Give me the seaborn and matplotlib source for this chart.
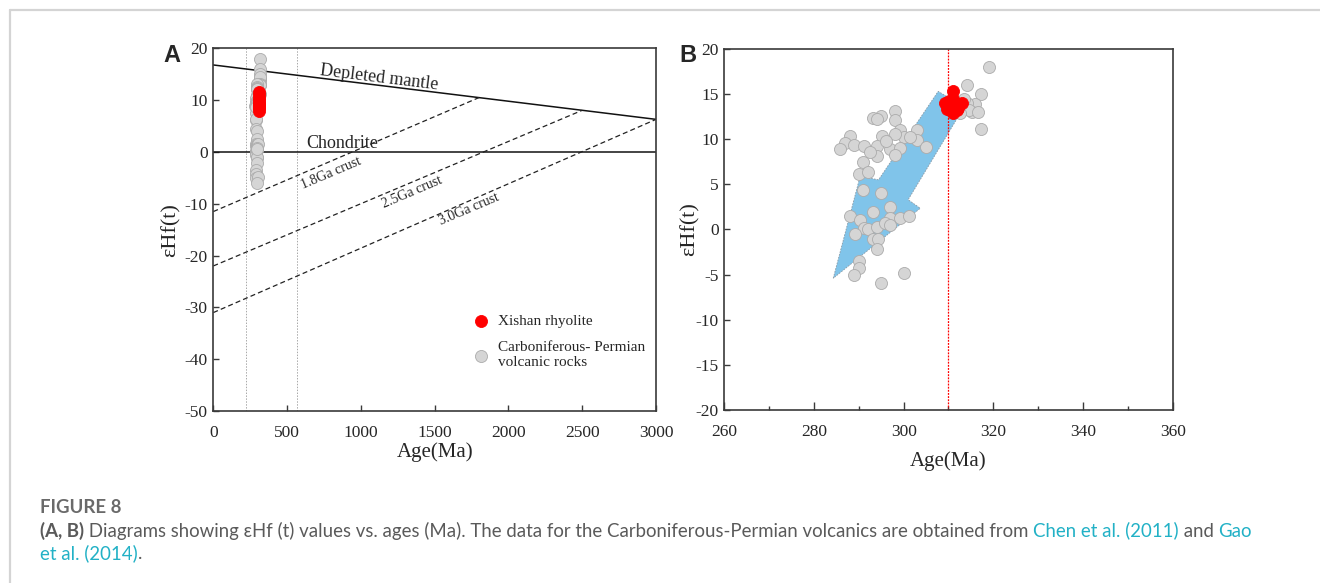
import numpy as np
import pandas as pd
import matplotlib
matplotlib.use("Agg")
import matplotlib.pyplot as plt
import seaborn as sns
from matplotlib.lines import Line2D
from matplotlib.ticker import MultipleLocator

# ---------------- data ----------------
# Carboniferous-Permian volcanic rocks (age Ma, eHf(t))
cp_age = [319.1, 314.1, 317.2, 317.2, 315.9, 315.2, 314.1, 313.5, 314.5, 312.5, 316.5,
          298.1, 295.0, 293.2, 294.1, 298.1, 299.2, 303.0, 303.0, 305.0, 300.1, 298.1,
          295.1, 288.0, 286.9, 285.8, 289.0, 291.2, 294.0, 297.0, 299.2, 294.0, 298.1,
          291.0, 290.1, 292.1, 291.0, 295.0, 293.1, 296.9, 288.0, 290.3, 296.9, 299.2,
          301.2, 291.2, 292.1, 294.0, 295.8, 289.2, 293.2, 294.2, 294.0, 290.1, 290.1,
          289.0, 300.1, 295.0, 297.0, 296.0, 292.5, 301.5]
cp_ehf = [18.0, 16.0, 15.0, 11.1, 13.9, 13.0, 14.0, 14.5, 13.2, 12.9, 13.0,
          13.1, 12.6, 12.3, 12.2, 12.1, 11.0, 11.0, 9.9, 9.1, 10.2, 10.6,
          10.4, 10.4, 9.6, 8.9, 9.4, 9.2, 9.2, 8.9, 9.0, 8.1, 8.2,
          7.5, 6.2, 6.4, 4.4, 4.0, 1.9, 2.5, 1.5, 1.1, 1.3, 1.3,
          1.5, 0.2, 0.0, 0.3, 0.7, -0.5, -1.1, -1.0, -2.2, -3.5, -4.3,
          -5.0, -4.8, -5.9, 0.5, 9.8, 8.6, 10.3]

# Xishan rhyolite, panel A
xs_age_a = [311.0, 310.5, 312.0, 311.5, 310.0, 312.5, 311.0, 310.8, 311.8, 312.2]
xs_ehf_a = [11.5, 11.0, 10.4, 10.0, 9.5, 9.2, 9.0, 8.7, 8.4, 8.0]
# Xishan rhyolite, panel B
xs_age_b = [310.9, 309.2, 309.6, 311.5, 313.0, 311.9, 310.4, 311.1, 310.9, 312.2, 310.2]
xs_ehf_b = [15.3, 14.0, 13.4, 13.8, 14.0, 13.2, 13.2, 14.5, 12.9, 13.5, 14.2]

# Reference evolution lines (panel A)
dm_age = [0, 3000]
dm_ehf = [16.8, 6.3]
chur_age = [0, 3000]
chur_ehf = [0, 0]
crust18_age = [0, 1800]
crust18_ehf = [-11.5, 10.5]
crust25_age = [0, 2500]
crust25_ehf = [-22.0, 8.05]
crust30_age = [0, 3000]
crust30_ehf = [-31.0, 6.3]
guide_ages_a = [220, 570]

# Arrow outline (panel B)
arrow_age = [284.3, 290.3, 294.4, 307.7, 313.5, 301.0, 303.7, 284.3]
arrow_ehf = [-5.4, 5.9, 5.5, 15.3, 13.6, 3.3, 2.35, -5.4]
ref_age_b = 310

xticks_a = [0, 500, 1000, 1500, 2000, 2500, 3000]
yticks_a = [-50, -40, -30, -20, -10, 0, 10, 20]
xticks_b = [260, 280, 300, 320, 340, 360]
yticks_b = [-20, -15, -10, -5, 0, 5, 10, 15, 20]

# ---------------- style ----------------
sns.set_style("ticks")
plt.rcParams['font.family'] = ['Liberation Serif', 'DejaVu Serif']
plt.rcParams['axes.edgecolor'] = '#3a3a3a'
plt.rcParams['axes.linewidth'] = 1.2
plt.rcParams['axes.unicode_minus'] = False

GREY_FC = '#d5d5d5'
GREY_EC = '#ababab'
RED = '#ff0000'
BLUE = '#80c4ea'
TICK_SIZE = 12.5

fig = plt.figure(figsize=(13.2, 5.83), dpi=100)
axA = fig.add_axes([0.1616, 0.295, 0.3354, 0.622])
axB = fig.add_axes([0.5487, 0.2967, 0.3397, 0.6193])

cp = pd.DataFrame({'age': cp_age, 'ehf': cp_ehf})
xa = pd.DataFrame({'age': xs_age_a, 'ehf': xs_ehf_a})
xb = pd.DataFrame({'age': xs_age_b, 'ehf': xs_ehf_b})

# ---------------- Panel A ----------------
for g in guide_ages_a:
    axA.axvline(g, color='#a8a8a8', lw=0.7, ls=(0, (1.5, 1.5)), zorder=1)
sns.lineplot(x=dm_age, y=dm_ehf, ax=axA, color='#111111', lw=1.1, zorder=2)
sns.lineplot(x=chur_age, y=chur_ehf, ax=axA, color='#111111', lw=1.1, zorder=2)
for xs, ys in [(crust18_age, crust18_ehf), (crust25_age, crust25_ehf), (crust30_age, crust30_ehf)]:
    sns.lineplot(x=xs, y=ys, ax=axA, color='#222222', lw=0.9, zorder=2,
                 dashes=False, linestyle=(0, (4, 2.5)))

sns.scatterplot(data=cp, x='age', y='ehf', ax=axA, s=75, color=GREY_FC,
                edgecolor=GREY_EC, linewidth=0.6, zorder=3,
                label='Carboniferous- Permian\nvolcanic rocks')
sns.scatterplot(data=xa, x='age', y='ehf', ax=axA, s=75, color=RED,
                edgecolor=RED, linewidth=0.6, zorder=4, label='Xishan rhyolite')

axA.text(1125, 14.4, 'Depleted mantle', rotation=-7, ha='center', va='center', fontsize=13)
axA.text(870, 1.6, 'Chondrite', ha='center', va='center', fontsize=13)
axA.text(800, -4.2, '1.8Ga crust', rotation=23, ha='center', va='center', fontsize=10)
axA.text(1350, -7.8, '2.5Ga crust', rotation=23, ha='center', va='center', fontsize=10)
axA.text(1735, -11.0, '3.0Ga crust', rotation=23, ha='center', va='center', fontsize=10)

axA.set_xlim(0, 3000)
axA.set_ylim(-50, 20)
axA.set_xticks(xticks_a)
axA.set_yticks(yticks_a)
axA.set_xlabel('Age(Ma)', fontsize=15, labelpad=1)
axA.set_ylabel('εHf(t)', fontsize=16, labelpad=3)
axA.tick_params(direction='in', length=4, width=1, labelsize=TICK_SIZE, color='#3a3a3a')
axA.tick_params(axis='x', pad=10)
axA.tick_params(axis='y', pad=4)
for s in axA.spines.values():
    s.set_visible(True)

h, l = axA.get_legend_handles_labels()
leg = axA.legend(h[::-1], l[::-1], loc='upper left', bbox_to_anchor=(0.587, 0.268),
                 frameon=False, fontsize=11, handlelength=1.0, handletextpad=0.6,
                 borderpad=0, borderaxespad=0, labelspacing=0.85, markerscale=1.0)

fig.text(172 / 1320, 1 - 56 / 583, 'A', fontsize=17, fontweight='bold',
         family=['Liberation Sans', 'DejaVu Sans'], ha='center', va='center')

# ---------------- Panel B ----------------
axB.fill(arrow_age, arrow_ehf, facecolor=BLUE, edgecolor='#8a9aa6', lw=0.6,
         linestyle=(0, (2, 1.5)), zorder=1)
axB.axvline(ref_age_b, color=RED, lw=0.9, ls=(0, (1.5, 1)), zorder=2)
sns.scatterplot(data=cp, x='age', y='ehf', ax=axB, s=75, color=GREY_FC,
                edgecolor=GREY_EC, linewidth=0.6, zorder=3, legend=False)
sns.scatterplot(data=xb, x='age', y='ehf', ax=axB, s=75, color=RED,
                edgecolor=RED, linewidth=0.6, zorder=4, legend=False)
axB.set_xlim(260, 360)
axB.set_ylim(-20, 20)
axB.set_xticks(xticks_b)
axB.set_yticks(yticks_b)
axB.xaxis.set_minor_locator(MultipleLocator(10))
axB.set_xlabel('Age(Ma)', fontsize=15, labelpad=8)
axB.set_ylabel('εHf(t)', fontsize=16, labelpad=-3)
axB.tick_params(which='major', direction='in', length=6, width=1, labelsize=TICK_SIZE,
                color='#3a3a3a')
axB.tick_params(axis='x', which='major', pad=10)
axB.tick_params(axis='y', which='major', length=4, pad=4)
axB.tick_params(which='minor', direction='in', length=3, width=1, color='#3a3a3a')
for s in axB.spines.values():
    s.set_visible(True)

fig.text(688 / 1320, 1 - 56 / 583, 'B', fontsize=17, fontweight='bold',
         family=['Liberation Sans', 'DejaVu Sans'], ha='center', va='center')

# ---------------- frame & caption ----------------
fig.add_artist(Line2D([9.5 / 1320, 1], [1 - 10 / 583, 1 - 10 / 583],
                      transform=fig.transFigure, color='#d4d4d4', lw=1.6))
fig.add_artist(Line2D([9.5 / 1320, 9.5 / 1320], [0, 1 - 10 / 583],
                      transform=fig.transFigure, color='#d4d4d4', lw=1.6))

cap_font = ['Lato', 'DejaVu Sans']
GREY_TXT = '#5a5a5a'
TEAL = '#22b1c6'
CAP_SIZE = 13.4
fig.text(40 / 1320, 1 - 513 / 583, 'FIGURE 8', family=cap_font, fontsize=CAP_SIZE,
         fontweight='bold', color='#6a6a6a', va='baseline')
t0 = fig.text(40 / 1320, 1 - 536.5 / 583, '(A, B)', family=cap_font, fontsize=CAP_SIZE,
              fontweight='bold', color=GREY_TXT, va='baseline')
parts = [(' Diagrams showing εHf (t) values vs. ages (Ma). The data for the '
          'Carboniferous-Permian volcanics are obtained from ', GREY_TXT),
         ('Chen et al. (2011)', TEAL), (' and ', GREY_TXT), ('Gao', TEAL)]
prev = t0
for txt, col in parts:
    prev = axA.annotate(txt, xy=(1, 0), xycoords=prev, va='bottom', ha='left',
                        family=cap_font, fontsize=CAP_SIZE, color=col,
                        annotation_clip=False)
t1 = fig.text(40 / 1320, 1 - 559 / 583, 'et al. (2014)', family=cap_font, fontsize=CAP_SIZE,
              color=TEAL, va='baseline')
axA.annotate('.', xy=(1, 0), xycoords=t1, va='bottom', ha='left', family=cap_font,
             fontsize=CAP_SIZE, color=GREY_TXT, annotation_clip=False)

fig.savefig('out.png', dpi=100)
